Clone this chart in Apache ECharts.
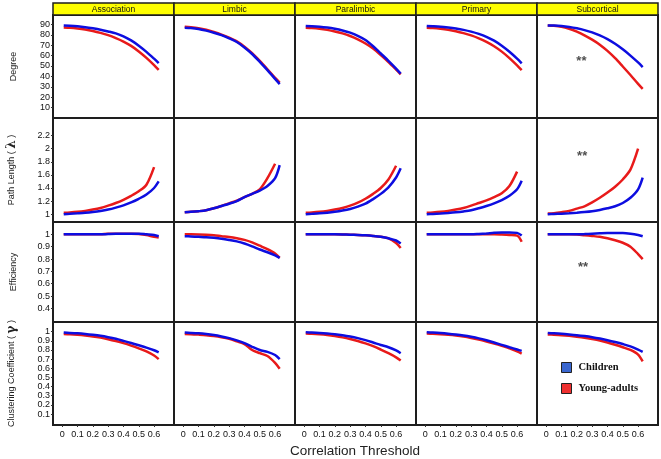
<!DOCTYPE html>
<html><head><meta charset="utf-8">
<script src="https://cdn.jsdelivr.net/npm/echarts@6/dist/echarts.min.js"></script>
<style>html,body{margin:0;padding:0;background:#fff}#c{width:661px;height:459px}</style>
</head><body><div id="c"></div>
<script>
// ---------- categories / ticks ----------
const regions = ['Association', 'Limbic', 'Paralimbic', 'Primary', 'Subcortical'];
const measureNames = ['Degree', 'Path Length ( {g|λ} )', 'Efficiency', 'Clustering Coefficient ( {g|γ} )'];
const groups = ['Children', 'Young-adults'];
const thresholds = [0.01, 0.05, 0.1, 0.15, 0.2, 0.25, 0.3, 0.35, 0.4, 0.45, 0.5, 0.55, 0.6, 0.63];
const xTicks = [0, 0.1, 0.2, 0.3, 0.4, 0.5, 0.6];
const degreeTicks = [10, 20, 30, 40, 50, 60, 70, 80, 90];
const pathTicks = [1, 1.2, 1.4, 1.6, 1.8, 2, 2.2];
const effTicks = [0.4, 0.5, 0.6, 0.7, 0.8, 0.9, 1];
const clusTicks = [0.1, 0.2, 0.3, 0.4, 0.5, 0.6, 0.7, 0.8, 0.9, 1];

// ---------- Degree ----------
const degChildrenAssociation = [88.8, 88.6, 88.1, 87.3, 86.2, 84.9, 83.2, 81.3, 78.5, 74.6, 69.5, 63.6, 57, 52.8];
const degAdultsAssociation   = [87, 86.7, 86, 85, 83.6, 81.8, 79.6, 76.8, 73.5, 69.3, 64, 57.8, 50.8, 46.2];
const degChildrenLimbic      = [86.8, 86.5, 85.6, 84, 82, 79.6, 76.6, 73, 67.8, 61.5, 54, 46, 37.6, 32.5];
const degAdultsLimbic        = [87.6, 87.2, 86.3, 84.8, 82.7, 80.2, 77.2, 73.6, 68.5, 62.2, 54.8, 46.8, 38.5, 34];
const degChildrenParalimbic  = [88.4, 88.2, 87.7, 86.9, 85.7, 84.1, 82, 79, 75, 69, 62, 55, 47.5, 42.6];
const degAdultsParalimbic    = [86.8, 86.5, 85.8, 84.7, 83.2, 81.3, 78.8, 75.6, 71.6, 66.7, 60.5, 53.8, 46.5, 42];
const degChildrenPrimary     = [88.4, 88.2, 87.8, 87, 86, 84.7, 83, 80.8, 78, 74.3, 69.4, 63.6, 57, 52.5];
const degAdultsPrimary       = [86.8, 86.5, 85.8, 84.8, 83.4, 81.6, 79.4, 76.6, 73.2, 69, 63.8, 57.6, 50.6, 46];
const degChildrenSubcortical = [89, 88.9, 88.4, 87.5, 86.2, 84.5, 82.3, 79.4, 75.8, 71.3, 66, 60, 53.4, 49];
const degAdultsSubcortical   = [89, 88.7, 87.8, 85.8, 83, 79.5, 75.3, 70.5, 64.5, 57.5, 49.5, 41.3, 32.8, 28];

// ---------- Path length ----------
const pathChildrenAssociation = [1.0, 1.005, 1.012, 1.02, 1.032, 1.048, 1.07, 1.1, 1.135, 1.18, 1.235, 1.3, 1.4, 1.5];
const pathAdultsAssociation   = [1.02, 1.025, 1.035, 1.05, 1.07, 1.095, 1.13, 1.17, 1.22, 1.28, 1.35, 1.45, 1.72, null];
const pathChildrenLimbic      = [1.03, 1.035, 1.045, 1.06, 1.09, 1.125, 1.16, 1.2, 1.26, 1.31, 1.36, 1.43, 1.55, 1.75];
const pathAdultsLimbic        = [1.03, 1.035, 1.045, 1.06, 1.09, 1.125, 1.165, 1.205, 1.26, 1.31, 1.38, 1.55, 1.77, null];
const pathChildrenParalimbic  = [1.0, 1.005, 1.012, 1.022, 1.036, 1.055, 1.08, 1.115, 1.16, 1.23, 1.31, 1.41, 1.56, 1.7];
const pathAdultsParalimbic    = [1.02, 1.025, 1.035, 1.05, 1.07, 1.095, 1.13, 1.175, 1.235, 1.31, 1.4, 1.53, 1.74, null];
const pathChildrenPrimary     = [1.0, 1.004, 1.01, 1.018, 1.028, 1.042, 1.06, 1.09, 1.125, 1.165, 1.215, 1.28, 1.38, 1.51];
const pathAdultsPrimary       = [1.02, 1.025, 1.035, 1.05, 1.07, 1.095, 1.13, 1.17, 1.21, 1.26, 1.32, 1.43, 1.65, null];
const pathChildrenSubcortical = [1.0, 1.003, 1.008, 1.014, 1.022, 1.032, 1.045, 1.065, 1.09, 1.12, 1.17, 1.25, 1.38, 1.56];
const pathAdultsSubcortical   = [1.01, 1.015, 1.03, 1.05, 1.085, 1.12, 1.18, 1.25, 1.33, 1.42, 1.53, 1.68, 2.0, null];

// ---------- Efficiency ----------
const effChildrenAssociation = [1.0, 1.0, 1.0, 1.0, 1.0, 1.0, 1.003, 1.005, 1.005, 1.005, 1.005, 1.0, 0.995, 0.985];
const effAdultsAssociation   = [1.0, 1.0, 1.0, 1.0, 1.0, 1.0, 1.005, 1.005, 1.005, 1.005, 1.003, 0.995, 0.98, 0.975];
const effChildrenLimbic      = [0.985, 0.983, 0.98, 0.977, 0.972, 0.965, 0.955, 0.943, 0.926, 0.903, 0.877, 0.855, 0.83, 0.81];
const effAdultsLimbic        = [1.0, 1.0, 0.999, 0.997, 0.993, 0.985, 0.978, 0.968, 0.955, 0.935, 0.908, 0.88, 0.845, 0.81];
const effChildrenParalimbic  = [1.0, 1.0, 1.0, 1.0, 1.0, 0.999, 0.997, 0.995, 0.992, 0.987, 0.98, 0.968, 0.95, 0.925];
const effAdultsParalimbic    = [1.0, 1.0, 1.0, 1.0, 1.0, 0.999, 0.997, 0.995, 0.992, 0.987, 0.98, 0.968, 0.93, 0.89];
const effChildrenPrimary     = [1.0, 1.0, 1.0, 1.0, 1.0, 1.0, 1.0, 1.003, 1.007, 1.012, 1.015, 1.015, 1.012, 0.99];
const effAdultsPrimary       = [1.0, 1.0, 1.0, 1.0, 1.0, 1.0, 1.0, 1.0, 1.0, 1.0, 0.998, 0.995, 0.99, 0.94];
const effChildrenSubcortical = [1.0, 1.0, 1.0, 1.0, 1.0, 1.002, 1.005, 1.008, 1.01, 1.01, 1.01, 1.005, 0.995, 0.985];
const effAdultsSubcortical   = [1.0, 1.0, 1.0, 1.0, 0.998, 0.993, 0.987, 0.98, 0.968, 0.952, 0.932, 0.9, 0.84, 0.8];

// ---------- Clustering coefficient ----------
const clusChildrenAssociation = [0.99, 0.987, 0.982, 0.975, 0.966, 0.955, 0.94, 0.922, 0.9, 0.877, 0.852, 0.826, 0.797, 0.775];
const clusAdultsAssociation   = [0.975, 0.972, 0.966, 0.958, 0.948, 0.935, 0.918, 0.898, 0.875, 0.848, 0.818, 0.785, 0.74, 0.70];
const clusChildrenLimbic      = [0.99, 0.987, 0.982, 0.974, 0.963, 0.948, 0.93, 0.905, 0.875, 0.835, 0.8, 0.78, 0.745, 0.70];
const clusAdultsLimbic        = [0.975, 0.973, 0.968, 0.962, 0.953, 0.94, 0.922, 0.895, 0.865, 0.8, 0.765, 0.735, 0.66, 0.595];
const clusChildrenParalimbic  = [0.993, 0.991, 0.987, 0.981, 0.973, 0.962, 0.948, 0.93, 0.908, 0.882, 0.855, 0.83, 0.795, 0.765];
const clusAdultsParalimbic    = [0.98, 0.977, 0.971, 0.963, 0.952, 0.938, 0.92, 0.898, 0.872, 0.842, 0.805, 0.765, 0.72, 0.685];
const clusChildrenPrimary     = [0.993, 0.99, 0.985, 0.978, 0.969, 0.958, 0.944, 0.927, 0.906, 0.882, 0.856, 0.83, 0.805, 0.79];
const clusAdultsPrimary       = [0.98, 0.977, 0.972, 0.966, 0.958, 0.947, 0.932, 0.914, 0.893, 0.87, 0.845, 0.818, 0.785, 0.76];
const clusChildrenSubcortical = [0.985, 0.982, 0.977, 0.97, 0.962, 0.952, 0.94, 0.925, 0.907, 0.887, 0.865, 0.84, 0.805, 0.78];
const clusAdultsSubcortical   = [0.97, 0.967, 0.962, 0.955, 0.946, 0.935, 0.92, 0.903, 0.882, 0.857, 0.83, 0.8, 0.75, 0.675];

// significance marks: [row, col, x, y]
const sigMarks = [[0, 4, 0.23, 54.5], [1, 4, 0.235, 1.88], [2, 4, 0.24, 0.73]];

// ---------- tables built from the arrays ----------
const childrenTable = [
  [degChildrenAssociation, degChildrenLimbic, degChildrenParalimbic, degChildrenPrimary, degChildrenSubcortical],
  [pathChildrenAssociation, pathChildrenLimbic, pathChildrenParalimbic, pathChildrenPrimary, pathChildrenSubcortical],
  [effChildrenAssociation, effChildrenLimbic, effChildrenParalimbic, effChildrenPrimary, effChildrenSubcortical],
  [clusChildrenAssociation, clusChildrenLimbic, clusChildrenParalimbic, clusChildrenPrimary, clusChildrenSubcortical]
];
const adultsTable = [
  [degAdultsAssociation, degAdultsLimbic, degAdultsParalimbic, degAdultsPrimary, degAdultsSubcortical],
  [pathAdultsAssociation, pathAdultsLimbic, pathAdultsParalimbic, pathAdultsPrimary, pathAdultsSubcortical],
  [effAdultsAssociation, effAdultsLimbic, effAdultsParalimbic, effAdultsPrimary, effAdultsSubcortical],
  [clusAdultsAssociation, clusAdultsLimbic, clusAdultsParalimbic, clusAdultsPrimary, clusAdultsSubcortical]
];
const yTickSets = [degreeTicks, pathTicks, effTicks, clusTicks];

// ---------- layout ----------
const colLeft0 = 53, colW = 121;
const rowTops = [15, 118, 222, 322], rowBottom = 425;
const yRanges = [[0, 99], [0.88, 2.47], [0.29, 1.10], [-0.02, 1.106]];
const xRange = [-0.06, 0.73];
const blue = '#0d0de0', red = '#e81a1a';
const font = 'Liberation Sans, Arial, sans-serif';

const grids = [], xAxes = [], yAxes = [], series = [];
for (let r = 0; r < 4; r++) {
  const top = rowTops[r];
  const h = (r < 3 ? rowTops[r + 1] : rowBottom) - top;
  for (let c = 0; c < 5; c++) {
    const idx = r * 5 + c;
    grids.push({left: colLeft0 + c * colW, top: top, width: colW, height: h,
      show: true, borderColor: '#1e1e1e', borderWidth: 2, backgroundColor: '#fff'});
    xAxes.push({type: 'value', gridIndex: idx, min: xRange[0], max: xRange[1], position: 'bottom',
      splitLine: {show: false}, axisLine: {show: false, onZero: false},
      axisTick: {show: r === 3, inside: false, length: 2, customValues: xTicks, lineStyle: {color: '#333'}},
      axisLabel: {show: r === 3, customValues: xTicks, fontSize: 9, fontFamily: font, color: '#111', margin: 5}});
    yAxes.push({type: 'value', gridIndex: idx, min: yRanges[r][0], max: yRanges[r][1], position: 'left',
      splitLine: {show: false}, axisLine: {show: false, onZero: false},
      axisTick: {show: c === 0, inside: false, length: 2, customValues: yTickSets[r], lineStyle: {color: '#333'}},
      axisLabel: {show: c === 0, customValues: yTickSets[r], fontSize: 9, fontFamily: font, color: '#111', margin: 3},
      name: c === 0 ? measureNames[r] : '', nameLocation: 'middle', nameGap: 35, nameRotate: 90,
      nameTextStyle: {fontSize: 9, fontFamily: font, color: '#222',
        rich: {g: {fontSize: 12, fontWeight: 'bold', fontFamily: 'DejaVu Serif, serif', color: '#222'}}}});
    const tables = [childrenTable, adultsTable];
    [blue, red].forEach((col, g) => {
      const vals = tables[g][r][c];
      series.push({type: 'line', name: groups[g], xAxisIndex: idx, yAxisIndex: idx,
        data: thresholds.map((x, i) => [x, vals[i]]).filter(p => p[1] !== null),
        showSymbol: false, smooth: 0.3, z: g === 0 ? 3 : 2,
        lineStyle: {color: col, width: 2.5}, itemStyle: {color: col}});
    });
  }
}
sigMarks.forEach(m => {
  const idx = m[0] * 5 + m[1];
  series.push({type: 'scatter', xAxisIndex: idx, yAxisIndex: idx, symbolSize: 1,
    itemStyle: {color: 'rgba(0,0,0,0)'}, silent: true, data: [[m[2], m[3]]],
    label: {show: true, position: 'inside', formatter: '**', fontSize: 13, fontWeight: 'bold', color: '#222', fontFamily: font}});
});

const graphics = [];
regions.forEach((name, c) => {
  graphics.push({type: 'rect', shape: {x: colLeft0 + c * colW, y: 3, width: colW, height: 12},
    style: {fill: '#ffff00', stroke: '#1e1e1e', lineWidth: 1.5}, z: 10});
  graphics.push({type: 'text', x: colLeft0 + c * colW + colW / 2, y: 9.5,
    style: {text: name, fontSize: 8.5, fontFamily: font, fill: '#111', align: 'center', verticalAlign: 'middle'}, z: 11});
});
graphics.push({type: 'text', x: 355, y: 451,
  style: {text: 'Correlation Threshold', fontSize: 13.5, fontFamily: font, fill: '#222', align: 'center', verticalAlign: 'middle'}});

const chart = echarts.init(document.getElementById('c'), null, {renderer: 'canvas'});
chart.setOption({
  animation: false,
  backgroundColor: '#fff',
  grid: grids, xAxis: xAxes, yAxis: yAxes, series: series,
  graphic: graphics,
  legend: {left: 561, top: 362, padding: 0, orient: 'vertical', itemWidth: 10, itemHeight: 10, itemGap: 10,
    icon: 'rect', selectedMode: false,
    textStyle: {fontFamily: 'Liberation Serif, Times New Roman, serif', fontWeight: 'bold', fontSize: 10.5, color: '#111', padding: [0, 0, 0, 2]},
    data: [
      {name: 'Children', itemStyle: {color: '#3a67d0', borderColor: '#222', borderWidth: 1}},
      {name: 'Young-adults', itemStyle: {color: '#ee3030', borderColor: '#222', borderWidth: 1}}
    ]}
});
</script></body></html>
